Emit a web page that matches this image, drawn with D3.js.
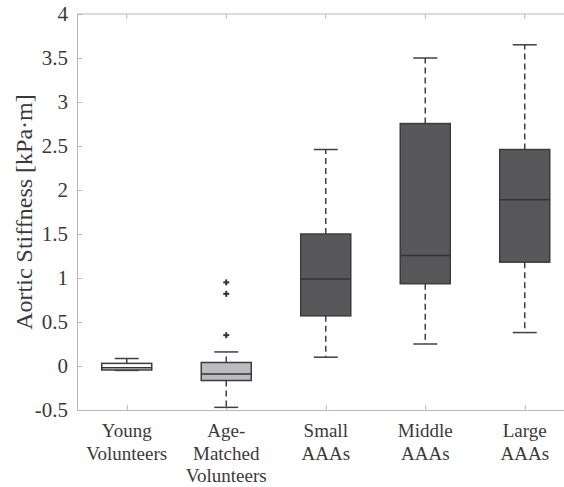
<!DOCTYPE html>
<html>
<head>
<meta charset="utf-8">
<script src="https://cdn.jsdelivr.net/npm/d3@7"></script>
<style>
  body { margin: 0; background: #fff; }
  svg text { font-family: "Liberation Serif", "DejaVu Serif", serif !important; }
</style>
</head>
<body>
<div id="chart"></div>
<script>
const groups = ["Young Volunteers", "Age-Matched Volunteers", "Small AAAs", "Middle AAAs", "Large AAAs"];
const groupLines = [["Young", "Volunteers"], ["Age-", "Matched", "Volunteers"], ["Small", "AAAs"], ["Middle", "AAAs"], ["Large", "AAAs"]];
const whiskerLow = [-0.05, -0.47, 0.10, 0.25, 0.38];
const q1 = [-0.045, -0.165, 0.57, 0.935, 1.18];
const median = [-0.02, -0.09, 0.99, 1.255, 1.89];
const q3 = [0.03, 0.04, 1.50, 2.755, 2.46];
const whiskerHigh = [0.085, 0.16, 2.46, 3.50, 3.65];
const outliers = [[], [0.35, 0.82, 0.95], [], [], []];
const boxFills = ["#ffffff", "#bcbcc0", "#58585a", "#58585a", "#58585a"];
const yTicks = [-0.5, 0, 0.5, 1, 1.5, 2, 2.5, 3, 3.5, 4];

const width = 564, height = 487;
const margin = { top: 14, left: 77, bottom: 77 };
const serif = '"Liberation Serif", "DejaVu Serif", serif';

const x = d3.scaleLinear().domain([0.5, 5.5]).range([margin.left, margin.left + 5 * 99.5]);
const y = d3.scaleLinear().domain([-0.5, 4]).range([height - margin.bottom, margin.top]);

const svg = d3.select("#chart").append("svg")
    .attr("width", width)
    .attr("height", height)
    .attr("font-family", serif);

const axisColor = "#b8b8b8";
const textColor = "#3a3a3a";

// axes
const yAxis = svg.append("g")
    .attr("transform", `translate(${margin.left},0)`)
    .call(d3.axisLeft(y).tickValues(yTicks).tickSize(-5).tickPadding(9).tickFormat(d => d));
const xAxis = svg.append("g")
    .attr("transform", `translate(0,${y(-0.5)})`)
    .call(d3.axisBottom(x).tickValues([1, 2, 3, 4, 5]).tickSize(-5).tickFormat(""));
svg.append("line")
    .attr("x1", margin.left).attr("x2", width)
    .attr("y1", y(4)).attr("y2", y(4))
    .attr("stroke", axisColor);
svg.selectAll(".toptick")
    .data([1, 2, 3, 4, 5])
    .enter().append("line")
    .attr("x1", d => x(d)).attr("x2", d => x(d))
    .attr("y1", y(4)).attr("y2", y(4) + 5)
    .attr("stroke", axisColor);

[yAxis, xAxis].forEach(a => {
    a.attr("font-family", serif);
    a.select(".domain").attr("stroke", axisColor);
    a.selectAll(".tick line").attr("stroke", axisColor);
    a.selectAll(".tick text").attr("fill", textColor).style("font-size", "21px");
});

// x labels
groups.forEach((g, i) => {
    const t = svg.append("text")
        .attr("text-anchor", "middle")
        .attr("fill", textColor)
        .style("font-size", "19px");
    groupLines[i].forEach((line, j) => {
        t.append("tspan")
            .attr("x", x(i + 1))
            .attr("y", y(-0.5) + 27 + j * 22.5)
            .text(line);
    });
});

// y label
svg.append("text")
    .attr("transform", `translate(32,${y(1.75)}) rotate(-90)`)
    .attr("text-anchor", "middle")
    .attr("fill", textColor)
    .style("font-size", "24px")
    .text("Aortic Stiffness [kPa·m]");

const boxW = 50, capW = 24;
const data = groups.map((g, i) => ({
    i, lo: whiskerLow[i], q1: q1[i], med: median[i], q3: q3[i], hi: whiskerHigh[i], out: outliers[i], fill: boxFills[i]
}));

const bx = svg.append("g").selectAll("g")
    .data(data)
    .enter().append("g");

// whiskers
bx.append("line")
    .attr("x1", d => x(d.i + 1)).attr("x2", d => x(d.i + 1))
    .attr("y1", d => y(d.q3)).attr("y2", d => y(d.hi))
    .attr("stroke", "#404040").attr("stroke-width", 1.5).attr("stroke-dasharray", "6,4");
bx.append("line")
    .attr("x1", d => x(d.i + 1)).attr("x2", d => x(d.i + 1))
    .attr("y1", d => y(d.q1)).attr("y2", d => y(d.lo))
    .attr("stroke", "#404040").attr("stroke-width", 1.5).attr("stroke-dasharray", "6,4");
["hi", "lo"].forEach(k => {
    bx.append("line")
        .attr("x1", d => x(d.i + 1) - capW / 2).attr("x2", d => x(d.i + 1) + capW / 2)
        .attr("y1", d => y(d[k])).attr("y2", d => y(d[k]))
        .attr("stroke", "#404040").attr("stroke-width", 1.5);
});

// boxes
bx.append("rect")
    .attr("x", d => x(d.i + 1) - boxW / 2)
    .attr("y", d => y(d.q3))
    .attr("width", boxW)
    .attr("height", d => y(d.q1) - y(d.q3))
    .attr("fill", d => d.fill)
    .attr("stroke", "#3c3c3c")
    .attr("stroke-width", 1.5);
bx.append("line")
    .attr("x1", d => x(d.i + 1) - boxW / 2).attr("x2", d => x(d.i + 1) + boxW / 2)
    .attr("y1", d => y(d.med)).attr("y2", d => y(d.med))
    .attr("stroke", "#333").attr("stroke-width", 1.5);

// outliers (small "+" markers)
const outPts = data.flatMap(d => d.out.map(v => ({ i: d.i, v })));
const og = svg.append("g").attr("stroke", "#333").attr("stroke-width", 2);
og.selectAll(".oh")
    .data(outPts)
    .enter().append("line")
    .attr("x1", d => x(d.i + 1) - 3).attr("x2", d => x(d.i + 1) + 3)
    .attr("y1", d => y(d.v)).attr("y2", d => y(d.v));
og.selectAll(".ov")
    .data(outPts)
    .enter().append("line")
    .attr("x1", d => x(d.i + 1)).attr("x2", d => x(d.i + 1))
    .attr("y1", d => y(d.v) - 3).attr("y2", d => y(d.v) + 3);
</script>
</body>
</html>
